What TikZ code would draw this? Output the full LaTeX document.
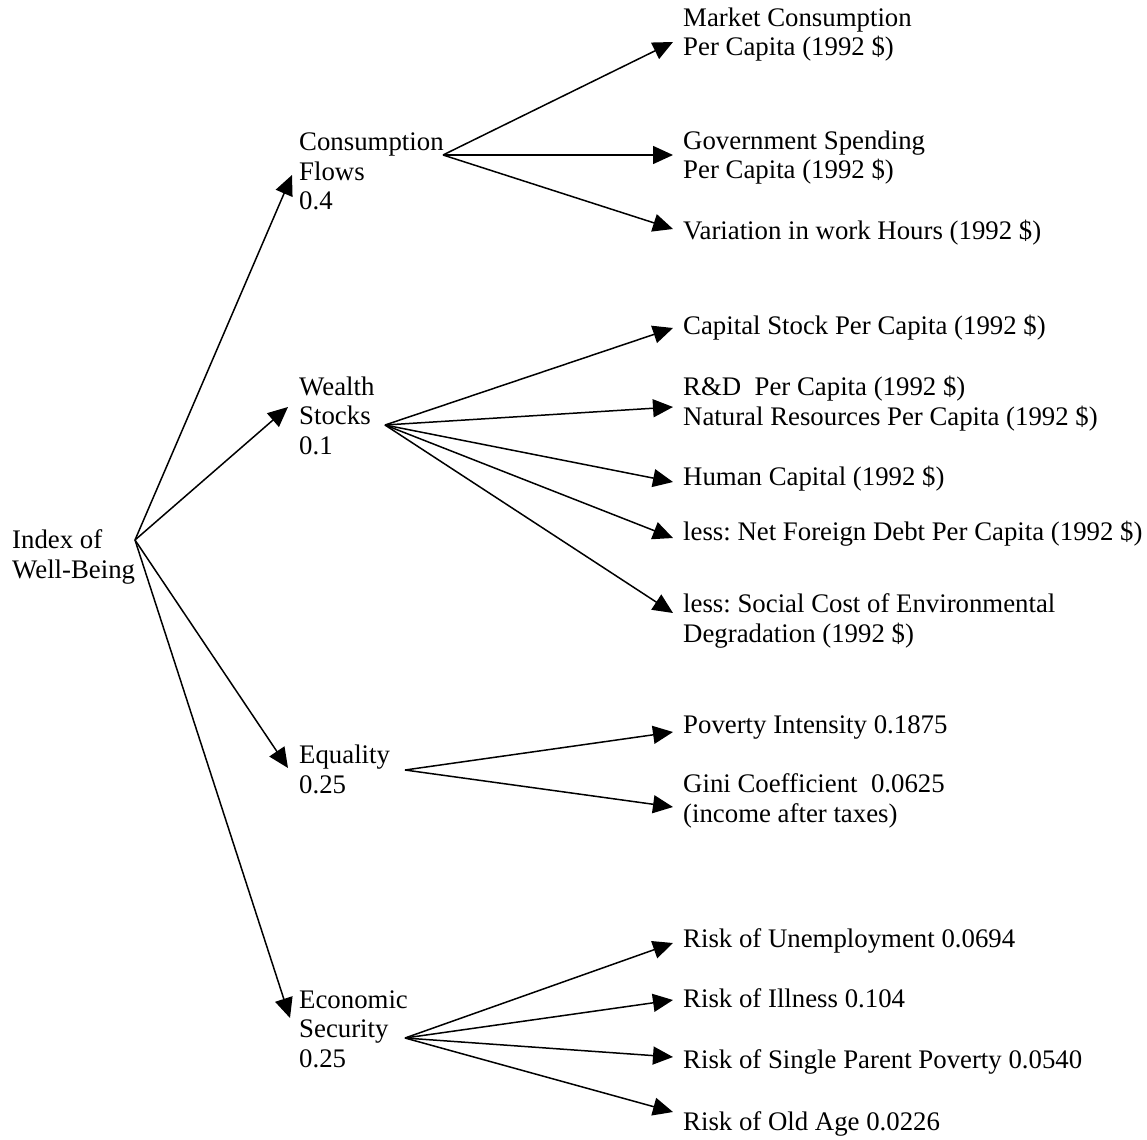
\documentclass[tikz,border=0pt]{standalone}
\usepackage{fontspec}
\setmainfont{Liberation Serif}
\frenchspacing
\usetikzlibrary{arrows.meta}

\tikzset{
  lbl/.style={anchor=base west,inner sep=0pt,align=left,font=\fontsize{26.8}{29.5}\selectfont},
  arr/.style={-{Triangle[length=20pt,width=18pt]},line width=1.5pt}
}

\begin{document}
\begin{tikzpicture}[x=1pt,y=-1pt]
          \useasboundingbox (0,0) rectangle (1147,1139);
          % root and main branches (placed by last baseline)
          \node[lbl] (idx) at (12,578) {Index of\\Well-Being};
          \node[lbl] (cons) at (299,210) {Consumption\\Flows\\0.4};
          \node[lbl] (wealth) at (299,454) {Wealth\\Stocks\\0.1};
          \node[lbl] (equal) at (299,793) {Equality\\0.25};
          \node[lbl] (secur) at (299,1067) {Economic\\Security\\0.25};
          \coordinate (idx-o) at (135,540);
          \coordinate (cons-o) at (443,155);
          \coordinate (wealth-o) at (385,425);
          \coordinate (equal-o) at (405,770);
          \coordinate (secur-o) at (405,1038);
          % leaves
          \node[lbl] (mkt) at (683,56) {Market Consumption\\Per Capita (1992 \$)};
          \node[lbl] (gov) at (683,179) {Government Spending\\Per Capita (1992 \$)};
          \node[lbl] (work) at (683,240) {Variation in work Hours (1992 \$)};
          \node[lbl] (capst) at (683,334) {Capital Stock Per Capita (1992 \$)};
          \node[lbl] (rnd) at (683,425) {R\&D\ \ Per Capita (1992 \$)\\Natural Resources Per Capita (1992 \$)};
          \node[lbl] (human) at (683,485) {Human Capital (1992 \$)};
          \node[lbl] (debt) at (683,540) {less: Net Foreign Debt Per Capita (1992 \$)};
          \node[lbl] (envir) at (683,642) {less: Social Cost of Environmental\\Degradation (1992 \$)};
          \node[lbl] (pov) at (683,733) {Poverty Intensity 0.1875};
          \node[lbl] (gini) at (683,822) {Gini Coefficient\ \ 0.0625\\(income after taxes)};
          \node[lbl] (unemp) at (683,947) {Risk of Unemployment 0.0694};
          \node[lbl] (ill) at (683,1007) {Risk of Illness 0.104};
          \node[lbl] (single) at (683,1068) {Risk of Single Parent Poverty 0.0540};
          \node[lbl] (oldage) at (683,1130) {Risk of Old Age 0.0226};
          % arrows
          \draw[arr] (idx-o) -- ([xshift=-7pt,yshift=35pt]cons.base west);
          \draw[arr] (idx-o) -- ([xshift=-11pt,yshift=47pt]wealth.base west);
          \draw[arr] (idx-o) -- ([xshift=-11pt,yshift=25pt]equal.base west);
          \draw[arr] (idx-o) -- ([xshift=-9pt,yshift=49pt]secur.base west);
          \draw[arr] (cons-o) -- ([xshift=-10pt,yshift=14pt]mkt.base west);
          \draw[arr] (cons-o) -- ([xshift=-10pt,yshift=24pt]gov.base west);
          \draw[arr] (cons-o) -- ([xshift=-10pt,yshift=11pt]work.base west);
          \draw[arr] (wealth-o) -- ([xshift=-10pt,yshift=6pt]capst.base west);
          \draw[arr] (wealth-o) -- ([xshift=-10pt,yshift=18pt]rnd.base west);
          \draw[arr] (wealth-o) -- ([xshift=-10pt,yshift=3pt]human.base west);
          \draw[arr] (wealth-o) -- ([xshift=-10pt,yshift=2pt]debt.base west);
          \draw[arr] (wealth-o) -- ([xshift=-10pt,yshift=29pt]envir.base west);
          \draw[arr] (equal-o) -- ([xshift=-10pt,yshift=1pt]pov.base west);
          \draw[arr] (equal-o) -- ([xshift=-10pt,yshift=15pt]gini.base west);
          \draw[arr] (secur-o) -- ([xshift=-10pt,yshift=4pt]unemp.base west);
          \draw[arr] (secur-o) -- ([xshift=-10pt,yshift=7pt]ill.base west);
          \draw[arr] (secur-o) -- ([xshift=-10pt,yshift=11pt]single.base west);
          \draw[arr] (secur-o) -- ([xshift=-10pt,yshift=18pt]oldage.base west);
        \end{tikzpicture}
\end{document}
